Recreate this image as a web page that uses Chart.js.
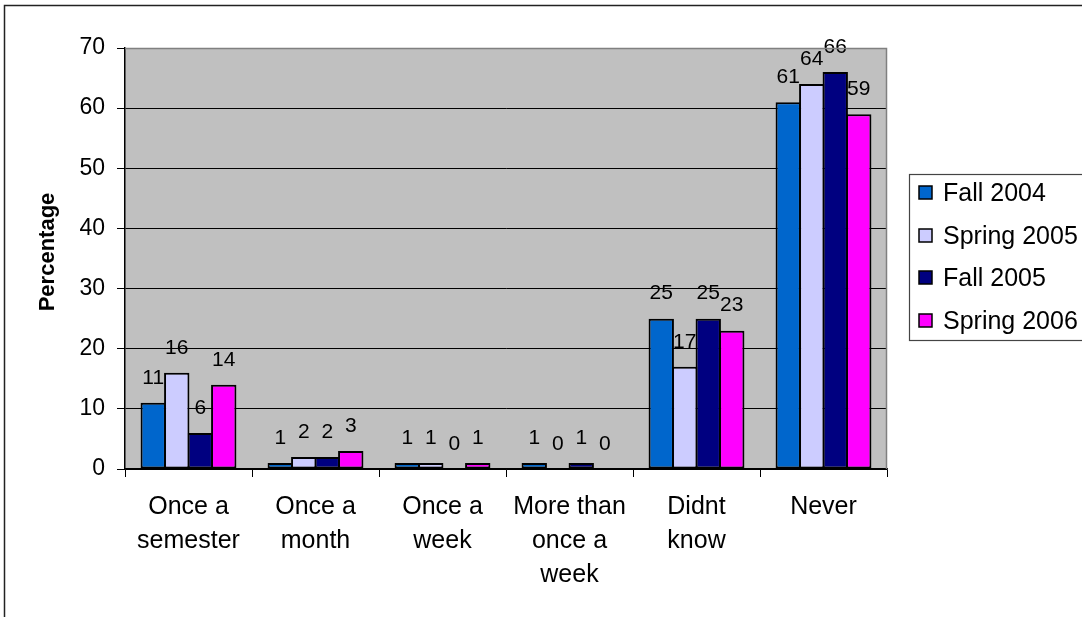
<!DOCTYPE html>
<html><head><meta charset="utf-8">
<script src="https://cdn.jsdelivr.net/npm/chart.js@4/dist/chart.umd.min.js"></script>
<style>html,body{margin:0;padding:0;background:#fff;overflow:hidden}canvas{display:block}</style>
</head><body>
<canvas id="c" width="1082" height="617"></canvas>
<script>
const categories = [["Once a","semester"],["Once a","month"],["Once a","week"],["More than","once a","week"],["Didnt","know"],["Never"]];
const seriesNames = ["Fall 2004","Spring 2005","Fall 2005","Spring 2006"];
const fall2004 = [11,1,1,1,25,61];
const spring2005 = [16,2,1,0,17,64];
const fall2005 = [6,2,0,1,25,66];
const spring2006 = [14,3,1,0,23,59];
const seriesColors = ["#0066CC","#CCCCFF","#000080","#FF00FF"];
const yAxisTitle = "Percentage";
const yMin = 0, yMax = 70, yStep = 10;
const FONT = "'Liberation Sans', Arial, sans-serif";

const seriesValues = [fall2004, spring2005, fall2005, spring2006];

const frame = {
  id: 'frame',
  beforeDraw(chart) {
    const ctx = chart.ctx, a = chart.chartArea;
    ctx.save();
    ctx.fillStyle = '#fff';
    ctx.fillRect(0, 0, chart.width, chart.height);
    ctx.strokeStyle = '#222';
    ctx.lineWidth = 1.5;
    ctx.strokeRect(4.5, 5.5, chart.width + 20, chart.height + 20);
    ctx.fillStyle = '#C0C0C0';
    ctx.fillRect(a.left, a.top, a.right - a.left, a.bottom - a.top);
    ctx.restore();
  },
  afterDraw(chart) {
    const ctx = chart.ctx, a = chart.chartArea;
    ctx.save();
    ctx.strokeStyle = '#808080';
    ctx.lineWidth = 1.5;
    ctx.beginPath();
    ctx.moveTo(a.left, a.top + 0.5);
    ctx.lineTo(a.right - 0.5, a.top + 0.5);
    ctx.lineTo(a.right - 0.5, a.bottom);
    ctx.stroke();
    // y axis title
    ctx.save();
    ctx.translate(48, 252);
    ctx.rotate(-Math.PI / 2);
    ctx.font = 'bold 22px ' + FONT;
    ctx.fillStyle = '#000';
    ctx.textAlign = 'center';
    ctx.textBaseline = 'middle';
    ctx.fillText(yAxisTitle, 0, 0);
    ctx.restore();
    // legend
    const lx = 909, ly = 174, lb = 340;
    ctx.strokeStyle = '#444';
    ctx.lineWidth = 1.2;
    ctx.strokeRect(lx + 0.5, ly + 0.5, chart.width, lb - ly);
    const ys = [193, 236, 278, 321];
    ctx.font = '25px ' + FONT;
    ctx.textBaseline = 'middle';
    ctx.textAlign = 'left';
    chart.data.datasets.forEach((ds, i) => {
      const y = ys[i];
      ctx.fillStyle = ds.backgroundColor;
      ctx.fillRect(919, y - 7, 13, 13);
      ctx.strokeStyle = '#000';
      ctx.lineWidth = 1.5;
      ctx.strokeRect(919, y - 7, 13, 13);
      ctx.fillStyle = '#000';
      ctx.fillText(ds.label, 943, y + 1);
    });
    ctx.restore();
  },
  afterDatasetsDraw(chart) {
    const ctx = chart.ctx;
    ctx.save();
    ctx.font = '21px ' + FONT;
    ctx.fillStyle = '#000';
    ctx.textAlign = 'center';
    ctx.textBaseline = 'middle';
    chart.data.datasets.forEach((ds, i) => {
      const meta = chart.getDatasetMeta(i);
      meta.data.forEach((el, j) => {
        ctx.fillText(String(ds.data[j]), el.x, el.y - 25);
      });
    });
    ctx.restore();
  }
};

new Chart(document.getElementById('c'), {
  type: 'bar',
  data: {
    labels: categories,
    datasets: seriesNames.map((n, i) => ({
      label: n,
      data: seriesValues[i],
      backgroundColor: seriesColors[i],
      borderColor: '#000',
      borderWidth: 2,
      borderSkipped: false,
      categoryPercentage: 0.74,
      barPercentage: 1.08
    }))
  },
  options: {
    responsive: false,
    animation: false,
    devicePixelRatio: 1,
    layout: { padding: { top: 48, right: 195, bottom: 0, left: 0 } },
    plugins: { legend: { display: false }, tooltip: { enabled: false } },
    scales: {
      x: {
        afterFit(s) { s.height = 148; },
        grid: { offset: true, drawOnChartArea: false, drawTicks: true, tickLength: 8, color: '#000', lineWidth: 1 },
        border: { display: true, color: '#000', width: 1.5 },
        ticks: { color: '#000', font: { family: FONT, size: 25, lineHeight: 1.36 }, padding: 13, maxRotation: 0, autoSkip: false }
      },
      y: {
        min: yMin, max: yMax,
        afterFit(s) { s.width = 125; },
        grid: { color: '#000', lineWidth: 1, tickLength: 8 },
        border: { display: true, color: '#000', width: 1.5 },
        ticks: { stepSize: yStep, color: '#000', font: { family: FONT, size: 23 }, padding: 12 },
        title: { display: false }
      }
    }
  },
  plugins: [frame]
});
</script>
</body></html>
